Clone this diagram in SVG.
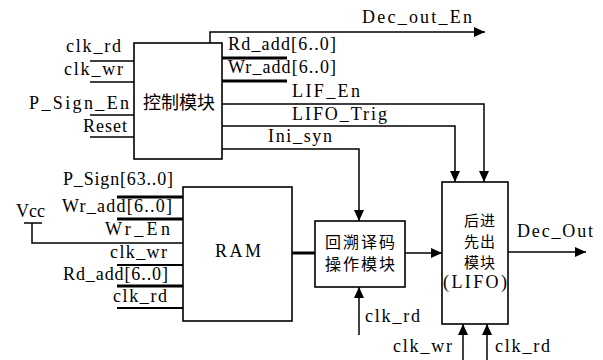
<svg xmlns="http://www.w3.org/2000/svg" width="603" height="360" viewBox="0 0 603 360">
<defs>
<style>
.t{font-family:"Liberation Serif","DejaVu Serif",serif;font-size:18px;fill:#000}
.c{font-family:"Noto Sans CJK SC","Noto Sans",sans-serif;fill:#000;text-anchor:middle}
.box{fill:#fff;stroke:#000;stroke-width:1.6}
.w{fill:none;stroke:#000;stroke-width:1.5}
.m{fill:none;stroke:#000;stroke-width:2}
.b{fill:none;stroke:#000;stroke-width:3}
.a{fill:none;stroke:#000;stroke-width:1.5;marker-end:url(#ah)}
</style>
<marker id="ah" markerUnits="userSpaceOnUse" markerWidth="11" markerHeight="10" refX="11" refY="5" orient="auto" viewBox="0 0 11 10">
<path d="M0,0 L11,5 L0,10 z" fill="#000"/>
</marker>
</defs>
<rect width="603" height="360" fill="#fff"/>

<g id="connectors">
<line class="w" x1="90" y1="61" x2="134" y2="61"/>
<line class="w" x1="90" y1="82" x2="134" y2="82"/>
<line class="w" x1="90" y1="115" x2="134" y2="115"/>
<line class="w" x1="90" y1="137" x2="134" y2="137"/>
<polyline class="a" points="210,43 210,32 485,32"/>
<line class="b" x1="222" y1="58" x2="287" y2="58"/>
<line class="b" x1="222" y1="81" x2="287" y2="81"/>
<polyline class="a" points="222,104 484,104 484,182"/>
<polyline class="a" points="222,126 455,126 455,182"/>
<polyline class="a" points="222,149 359,149 359,221"/>
<line class="b" x1="117" y1="197" x2="183" y2="197"/>
<line class="b" x1="117" y1="219" x2="183" y2="219"/>
<polyline class="w" points="24,223 42,223"/>
<polyline class="w" points="32,223 32,243 183,243"/>
<line class="m" x1="117" y1="265" x2="183" y2="265"/>
<line class="b" x1="117" y1="286" x2="183" y2="286"/>
<line class="m" x1="117" y1="308" x2="183" y2="308"/>
<line class="b" x1="292" y1="253" x2="315" y2="253"/>
<line class="a" x1="359" y1="335" x2="359" y2="287"/>
<line class="a" x1="405" y1="253" x2="442" y2="253"/>
<line class="a" x1="508" y1="252" x2="586" y2="252"/>
<line class="a" x1="463" y1="360" x2="463" y2="324"/>
<line class="a" x1="487" y1="360" x2="487" y2="324"/>
</g>

<g id="labels">
<text class="t" x="66" y="52" textLength="55" lengthAdjust="spacing">clk_rd</text>
<text class="t" x="64" y="75" textLength="59" lengthAdjust="spacing">clk_wr</text>
<text class="t" x="29" y="109" textLength="100" lengthAdjust="spacing">P_Sign_En</text>
<text class="t" x="83" y="132" textLength="44" lengthAdjust="spacing">Reset</text>
<text class="t" x="362" y="23" textLength="110" lengthAdjust="spacing">Dec_out_En</text>
<text class="t" x="228" y="50" textLength="108" lengthAdjust="spacing">Rd_add[6..0]</text>
<text class="t" x="228" y="73" textLength="108" lengthAdjust="spacing">Wr_add[6..0]</text>
<text class="t" x="292" y="97" textLength="68" lengthAdjust="spacing">LIF_En</text>
<text class="t" x="292" y="120" textLength="95" lengthAdjust="spacing">LIFO_Trig</text>
<text class="t" x="268" y="142" textLength="64" lengthAdjust="spacing">Ini_syn</text>
<text class="t" x="63" y="185" textLength="110" lengthAdjust="spacing">P_Sign[63..0]</text>
<text class="t" x="62" y="212" textLength="110" lengthAdjust="spacing">Wr_add[6..0]</text>
<text class="t" x="16" y="217" textLength="29" lengthAdjust="spacing">Vcc</text>
<text class="t" x="105" y="235" textLength="65" lengthAdjust="spacing">Wr_En</text>
<text class="t" x="110" y="258" textLength="57" lengthAdjust="spacing">clk_wr</text>
<text class="t" x="63" y="280" textLength="105" lengthAdjust="spacing">Rd_add[6..0]</text>
<text class="t" x="113" y="302" textLength="54" lengthAdjust="spacing">clk_rd</text>
<text class="t" x="365" y="322" textLength="55" lengthAdjust="spacing">clk_rd</text>
<text class="t" x="517" y="237" textLength="76" lengthAdjust="spacing">Dec_Out</text>
<text class="t" x="393" y="352" textLength="59" lengthAdjust="spacing">clk_wr</text>
<text class="t" x="495" y="352" textLength="55" lengthAdjust="spacing">clk_rd</text>
</g>

<g id="ctrl">
<rect class="box" x="134" y="43" width="88" height="116"/>
<text class="c" x="179" y="109" font-size="18">控制模块</text>
</g>

<g id="ram">
<rect class="box" x="183" y="187" width="109" height="134"/>
<text class="t" x="215" y="257" textLength="46" lengthAdjust="spacing">RAM</text>
</g>

<g id="decoder">
<rect class="box" x="315" y="221" width="90" height="66"/>
<text class="c" font-size="16" letter-spacing="2"><tspan x="361" y="248">回溯译码</tspan><tspan x="361" y="270">操作模块</tspan></text>
</g>

<g id="lifo">
<rect class="box" x="442" y="182" width="66" height="142"/>
<text class="c" font-size="15" letter-spacing="1"><tspan x="480" y="226">后进</tspan><tspan x="480" y="247">先出</tspan><tspan x="480" y="268">模块</tspan></text>
<text class="t" x="443" y="288" textLength="64" lengthAdjust="spacing">(LIFO)</text>
</g>
</svg>
